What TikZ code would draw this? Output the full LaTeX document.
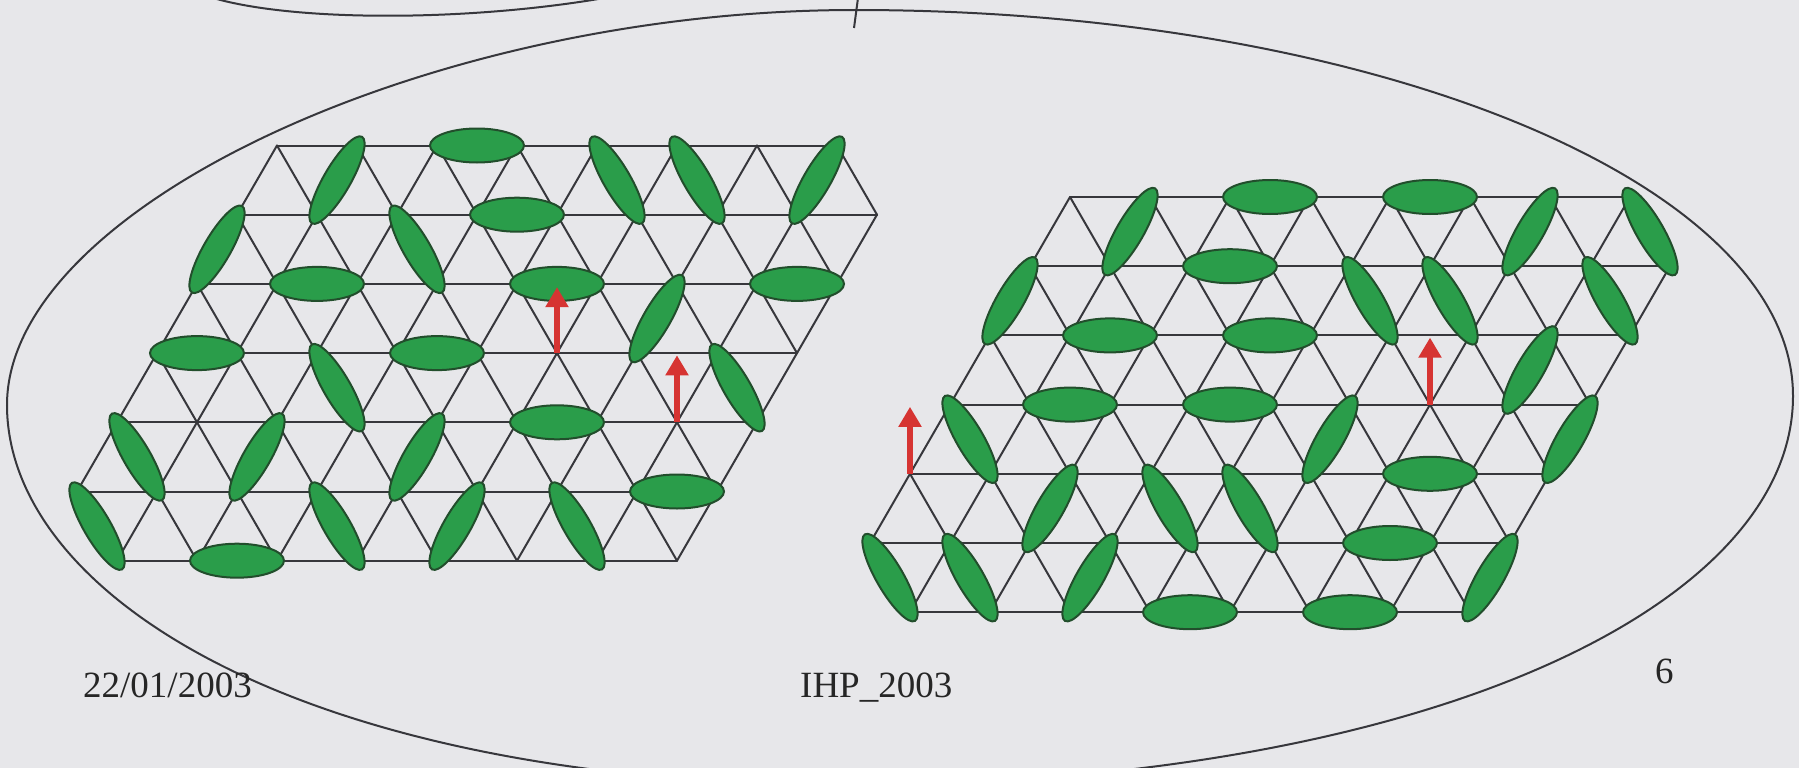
\documentclass[tikz,border=0pt]{standalone}
\usepackage{fontspec}
\setmainfont{Liberation Serif}
\usetikzlibrary{shapes.geometric,arrows.meta}
\definecolor{bg}{RGB}{231,231,234}
\definecolor{dimfill}{RGB}{42,157,74}
\definecolor{dimedge}{RGB}{34,78,44}
\definecolor{latcol}{RGB}{55,55,60}
\definecolor{arrcol}{RGB}{214,52,50}
\definecolor{outl}{RGB}{55,55,60}
\tikzset{
  latline/.style={draw=latcol, line width=2pt, line cap=round},
  dimerst/.style={ellipse, draw=dimedge, fill=dimfill, line width=2pt, inner sep=0pt, outer sep=0pt},
  hdimer/.style={dimerst, minimum width=94pt, minimum height=34pt},
  ddimer/.style={dimerst, minimum width=100pt, minimum height=27pt},
  redarrow/.style={draw=arrcol, line width=5.5pt, -{Triangle[length=20pt,width=22pt]}},
  outline/.style={draw=outl, line width=2pt},
  slidetext/.style={text=black!85, inner sep=0pt, font=\fontsize{37}{44}\selectfont}
}
% lattice: #1 prefix, #2 origin x, #3 origin y
\newcommand{\drawlattice}[3]{%
  \foreach \r in {0,...,6}{
    \pgfmathtruncatemacro{\kmin}{\r==6 ? 1 : 0}
    \pgfmathtruncatemacro{\kmax}{\r==0 ? 7 : 8}
    \foreach \k in {\kmin,...,\kmax}{
      \coordinate (#1-\r-\k) at ({#2-40*\r+80*\k},{#3+69.2*\r});
    }
  }
  \foreach \r in {0,...,6}{
    \pgfmathtruncatemacro{\kmin}{\r==6 ? 1 : 0}
    \pgfmathtruncatemacro{\kmax}{\r==0 ? 7 : 8}
    \draw[latline] (#1-\r-\kmin) -- (#1-\r-\kmax);
  }
  \foreach \r in {0,...,5}{
    \pgfmathtruncatemacro{\rr}{\r+1}
    \foreach \k in {0,...,8}{
      \pgfmathtruncatemacro{\okA}{((\r==0 && \k==8) || (\rr==6 && \k==0)) ? 0 : 1}
      \ifnum\okA=1 \draw[latline] (#1-\r-\k) -- (#1-\rr-\k);\fi
      \pgfmathtruncatemacro{\okB}{(\k==8) ? 0 : 1}
      \pgfmathtruncatemacro{\kk}{\k+1}
      \ifnum\okB=1 \draw[latline] (#1-\r-\k) -- (#1-\rr-\kk);\fi
    }
  }
}
% horizontal dimer: prefix, row, k1, k2
\newcommand{\dimH}[4]{%
  \path (#1-#2-#3) -- (#1-#2-#4) node[midway, hdimer] (#1-h-#2-#3) {};}
% diagonal dimer: prefix, r1, k1, r2, k2
\newcommand{\dimD}[5]{%
  \path (#1-#2-#3) -- (#1-#4-#5) node[midway, sloped, ddimer] (#1-d-#2-#3-#4-#5) {};}

\begin{document}
\begin{tikzpicture}[x=1pt,y=-1pt]
\useasboundingbox (0,0) rectangle (1799,768);
\clip (0,0) rectangle (1799,768);
\fill[bg] (0,0) rectangle (1799,768);

% outer closed outline, top bubble and pointer
\draw[outline] (7,405) .. controls (7,207.5) and (431,10) .. (855,10)
  .. controls (1373,10) and (1793,183) .. (1793,396)
  .. controls (1793,610) and (1416,785) .. (850,785)
  .. controls (302,785) and (7,595) .. (7,405) -- cycle;
\draw[outline] (210,-3) .. controls (290,22) and (470,22) .. (610,-3);
\coordinate (tickA) at (858,-2);
\coordinate (tickB) at (854,28);
\draw[outline] (tickA) -- (tickB);

% left lattice
\drawlattice{L}{277}{145.5}
\foreach \r/\a/\b in {0/2/3,1/3/4,2/1/2,2/4/5,2/7/8,3/0/1,3/3/4,4/5/6,5/7/8,6/2/3}
  {\dimH{L}{\r}{\a}{\b}}
\foreach \ra/\ka/\rb/\kb in {0/1/1/1,0/4/1/5,0/5/1/6,0/7/1/7,1/2/2/3,1/0/2/0,2/6/3/6,3/2/4/3,3/7/4/8,4/0/5/1,4/2/5/2,4/4/5/4,5/0/6/1,5/3/6/4,5/5/6/5,5/6/6/7}
  {\dimD{L}{\ra}{\ka}{\rb}{\kb}}

% right lattice
\drawlattice{R}{1070}{197}
\foreach \r/\a/\b in {0/2/3,0/4/5,1/2/3,2/1/2,2/3/4,3/1/2,3/3/4,4/6/7,5/6/7,6/4/5,6/6/7}
  {\dimH{R}{\r}{\a}{\b}}
\foreach \ra/\ka/\rb/\kb in {0/1/1/1,0/6/1/6,0/7/1/8,1/0/2/0,1/4/2/5,1/5/2/6,1/7/2/8,2/7/3/7,3/0/4/1,3/5/4/5,3/8/4/8,4/2/5/2,4/3/5/4,4/4/5/5,5/0/6/1,5/1/6/2,5/3/6/3,5/8/6/8}
  {\dimD{R}{\ra}{\ka}{\rb}{\kb}}

% red arrows
\path (L-3-5) ++(0,-66) coordinate (LtipA);
\path (L-4-7) ++(0,-67) coordinate (LtipB);
\path (R-3-6) ++(0,-67) coordinate (RtipA);
\path (R-4-0) ++(0,-67) coordinate (RtipB);
\draw[redarrow] (L-3-5) -- (LtipA);
\draw[redarrow] (L-4-7) -- (LtipB);
\draw[redarrow] (R-3-6) -- (RtipA);
\draw[redarrow] (R-4-0) -- (RtipB);

% footer texts
\node[slidetext, anchor=base west] (date) at (83,697) {22/01/2003};
\node[slidetext, anchor=base west] (ihp) at (800,697) {IHP\_2003};
\node[slidetext, anchor=base west] (page) at (1655,683) {6};
\end{tikzpicture}
\end{document}
